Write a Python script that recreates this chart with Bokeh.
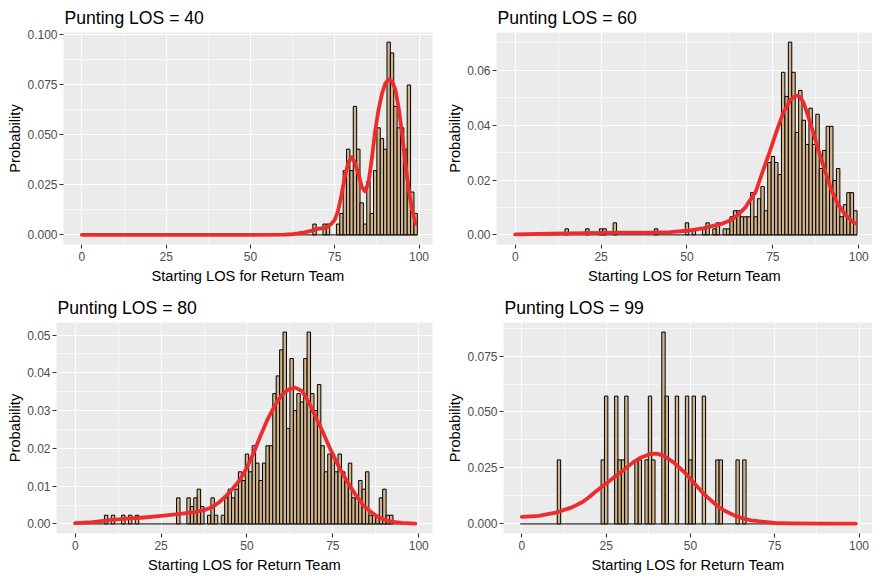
from bokeh.plotting import figure
from bokeh.layouts import column, row
from bokeh.models import Range1d, FixedTicker, PrintfTickFormatter
from bokeh.embed import file_html
from bokeh.resources import INLINE

FONT = "Liberation Sans"

# yard bins used by the histograms (0 .. 99)
YARDS = list(range(100))

# ---- Punting LOS = 40 ----
P40_X = [69, 72, 73, 76, 77, 78, 79, 80, 81, 82, 83, 84, 85, 86, 87, 88, 89, 90,
         91, 92, 93, 94, 95, 96, 97, 98, 99]
P40_P = [0.0054, 0.0054, 0.0054, 0.0054, 0.0107, 0.0321, 0.0428, 0.0321, 0.0642,
         0.0428, 0.0160, 0.0054, 0.0267, 0.0107, 0.0321, 0.0535, 0.0481, 0.0428,
         0.0963, 0.0909, 0.0642, 0.0535, 0.0535, 0.0428, 0.0749, 0.0214, 0.0107]
P40_CX = [0, 10, 20, 30, 40, 50, 60, 62, 64, 66, 68, 70, 72, 73, 74, 75, 76, 77, 78,
          79, 80, 81, 82, 83, 84, 85, 86, 87, 88, 89, 90, 91, 92, 93, 94, 95, 96, 97,
          98, 99]
P40_CY = [0, 0, 0, 0, 0, 0, 0.0001, 0.0003, 0.0007, 0.0012, 0.002, 0.003, 0.0035,
          0.0042, 0.0055, 0.0075, 0.012, 0.020, 0.029, 0.036, 0.0388, 0.036, 0.0305,
          0.024, 0.0218, 0.026, 0.038, 0.052, 0.0625, 0.0705, 0.0756, 0.0776, 0.0768,
          0.0725, 0.063, 0.050, 0.035, 0.022, 0.012, 0.0055]

# ---- Punting LOS = 60 ----
P60_X = [15, 21, 25, 26, 29, 41, 50, 52, 55, 56, 58, 59, 61, 62, 63, 64, 65, 66, 67,
         68, 69, 70, 71, 72, 73, 74, 75, 76, 77, 78, 79, 80, 81, 82, 83, 84, 85, 86,
         87, 88, 89, 90, 91, 92, 93, 94, 95, 96, 97, 98, 99]
P60_P = [0.0022, 0.0022, 0.0022, 0.0022, 0.0044, 0.0022, 0.0044, 0.0022, 0.0022,
         0.0044, 0.0022, 0.0044, 0.0022, 0.0022, 0.0066, 0.0088, 0.0088, 0.0066,
         0.0066, 0.0066, 0.0154, 0.0066, 0.0132, 0.0176, 0.0088, 0.0264, 0.0286,
         0.0264, 0.0220, 0.0593, 0.0505, 0.0703, 0.0593, 0.0374, 0.0527, 0.0418,
         0.0330, 0.0462, 0.0330, 0.0440, 0.0242, 0.0308, 0.0396, 0.0396, 0.0198,
         0.0242, 0.0066, 0.0110, 0.0154, 0.0154, 0.0088]
P60_CX = [0, 10, 20, 30, 40, 45, 50, 55, 60, 63, 65, 67, 68, 70, 72, 74, 76, 78, 80,
          81, 82, 83, 84, 86, 88, 90, 92, 94, 96, 98, 99]
P60_CY = [0.0002, 0.0004, 0.0006, 0.0008, 0.0008, 0.001, 0.0015, 0.0025, 0.004,
          0.0055, 0.0075, 0.010, 0.012, 0.0157, 0.023, 0.030, 0.0375, 0.0445, 0.049,
          0.0503, 0.0508, 0.0502, 0.0480, 0.0405, 0.0320, 0.0240, 0.0165, 0.0110,
          0.0075, 0.0050, 0.0042]

# ---- Punting LOS = 80 ----
P80_X = [9, 11, 14, 16, 18, 30, 33, 34, 35, 36, 37, 39, 40, 41, 43, 44, 45, 46, 47,
         48, 49, 50, 51, 52, 53, 54, 55, 56, 57, 58, 59, 60, 61, 62, 63, 64, 65, 66,
         67, 68, 69, 70, 71, 72, 73, 74, 75, 76, 77, 78, 79, 80, 81, 82, 83, 84, 85,
         86, 87, 88, 89, 90, 91, 92]
P80_P = [0.0023, 0.0023, 0.0023, 0.0023, 0.0023, 0.0069, 0.0069, 0.0046, 0.0069,
         0.0092, 0.0046, 0.0023, 0.0069, 0.0023, 0.0023, 0.0069, 0.0092, 0.0069,
         0.0092, 0.0138, 0.0115, 0.0185, 0.0138, 0.0207, 0.0161, 0.0115, 0.0161,
         0.0207, 0.0207, 0.0345, 0.0392, 0.0461, 0.0508, 0.0253, 0.0438, 0.0300,
         0.0345, 0.0323, 0.0438, 0.0508, 0.0345, 0.0300, 0.0369, 0.0207, 0.0138,
         0.0185, 0.0185, 0.0138, 0.0185, 0.0138, 0.0115, 0.0161, 0.0069, 0.0069,
         0.0115, 0.0092, 0.0138, 0.0023, 0.0023, 0.0023, 0.0069, 0.0092, 0.0023,
         0.0023]
P80_CX = [0, 5, 10, 15, 20, 25, 30, 35, 38, 40, 42, 44, 46, 48, 50, 52, 54, 56, 58,
          60, 62, 64, 66, 68, 70, 72, 74, 76, 78, 80, 82, 84, 86, 88, 90, 92, 95, 99]
P80_CY = [0.0002, 0.0005, 0.001, 0.0014, 0.0017, 0.0021, 0.0026, 0.0032, 0.0038,
          0.0045, 0.0058, 0.0075, 0.0095, 0.0117, 0.0150, 0.0190, 0.0235, 0.0277,
          0.0312, 0.0340, 0.0356, 0.0361, 0.0352, 0.0322, 0.0283, 0.0245, 0.0203,
          0.0165, 0.0130, 0.0100, 0.0072, 0.0048, 0.0032, 0.0019, 0.0011, 0.0006,
          0.0003, 0.0001]

# ---- Punting LOS = 99 ----
P99_X = [11, 24, 25, 28, 29, 30, 31, 34, 35, 37, 38, 39, 42, 43, 46, 49, 50, 51, 54,
         58, 59, 64, 66]
P99_P = [0.0286, 0.0286, 0.0571, 0.0571, 0.0286, 0.0286, 0.0571, 0.0286, 0.0286,
         0.0286, 0.0571, 0.0286, 0.0857, 0.0571, 0.0571, 0.0571, 0.0286, 0.0571,
         0.0571, 0.0286, 0.0286, 0.0286, 0.0286]
P99_CX = [0, 5, 10, 13, 15, 18, 20, 22, 25, 28, 30, 33, 35, 38, 40, 42, 45, 48, 50,
          53, 55, 58, 60, 63, 65, 68, 70, 75, 80, 90, 99]
P99_CY = [0.0031, 0.0036, 0.005, 0.0065, 0.0075, 0.0098, 0.012, 0.0146, 0.018,
          0.0216, 0.0238, 0.0275, 0.0294, 0.0312, 0.0314, 0.0305, 0.0275, 0.0234,
          0.0201, 0.015, 0.012, 0.008, 0.006, 0.0038, 0.0027, 0.0016, 0.0012, 0.0004,
          0.0002, 0.0001, 0.0001]

X_TICKS = [0, 25, 50, 75, 100]
X_MINOR = [12.5, 37.5, 62.5, 87.5]


def panel(title, bx, bp, cx, cy, yticks, yminor, yfmt, fw, fh, bl, br, bt, bb):
    ymax = max(bp)
    p = figure(frame_width=fw, frame_height=fh, output_backend="svg",
               toolbar_location=None,
               x_range=Range1d(-5.45, 104.0),
               y_range=Range1d(-0.05 * ymax, 1.05 * ymax),
               min_border_left=bl, min_border_right=br,
               min_border_top=bt, min_border_bottom=bb)
    p.background_fill_color = "#EBEBEB"
    p.border_fill_color = "white"
    p.outline_line_color = None

    p.title.text = title
    p.title.text_font = FONT
    p.title.text_font_size = "17.6px"
    p.title.text_font_style = "normal"
    p.title.text_color = "black"
    p.title.align = "left"
    p.title.offset = 1
    p.title.standoff = 9

    xt = FixedTicker(ticks=X_TICKS, minor_ticks=X_MINOR)
    yt = FixedTicker(ticks=yticks, minor_ticks=yminor)
    p.xaxis.ticker = xt
    p.yaxis.ticker = yt
    p.xgrid.ticker = xt
    p.ygrid.ticker = yt
    p.yaxis.formatter = PrintfTickFormatter(format=yfmt)

    for g in (p.xgrid, p.ygrid):
        g.grid_line_color = "white"
        g.grid_line_width = 1.1
        g.minor_grid_line_color = "white"
        g.minor_grid_line_width = 0.55

    p.xaxis.axis_label = "Starting LOS for Return Team"
    p.yaxis.axis_label = "Probability"
    for ax in (p.xaxis[0], p.yaxis[0]):
        ax.axis_line_color = None
        ax.major_tick_line_color = "#333333"
        ax.major_tick_line_width = 1.1
        ax.major_tick_out = 4
        ax.major_tick_in = 0
        ax.minor_tick_line_color = None
        ax.major_label_text_font = FONT
        ax.major_label_text_font_size = "12px"
        ax.major_label_text_color = "#4D4D4D"
        ax.axis_label_text_font = FONT
        ax.axis_label_text_font_size = "14.67px"
        ax.axis_label_text_font_style = "normal"
        ax.axis_label_text_color = "black"
    p.xaxis.major_label_standoff = 3
    p.xaxis.axis_label_standoff = 4
    p.yaxis.major_label_standoff = 2
    p.yaxis.axis_label_standoff = 1

    # empty bins are outlined along zero
    p.segment(x0=[YARDS[0] - 0.5], x1=[YARDS[-1] + 0.5], y0=[0], y1=[0],
              line_color="black", line_width=1)
    p.vbar(x=bx, width=1, top=bp, bottom=0, fill_color="#D2B48C",
           line_color="black", line_width=1)
    p.line(cx, cy, line_color="#EE2C2C", line_width=3.8, line_join="round",
           line_cap="round")
    return p


p1 = panel("Punting LOS = 40", P40_X, P40_P, P40_CX, P40_CY,
           [0, 0.025, 0.05, 0.075, 0.1], [0.0125, 0.0375, 0.0625, 0.0875], "%.3f",
           369, 212, 63, 8, 32, 42)
p2 = panel("Punting LOS = 60", P60_X, P60_P, P60_CX, P60_CY,
           [0, 0.02, 0.04, 0.06], [0.01, 0.03, 0.05, 0.07], "%.2f",
           376, 212, 56, 0, 32, 42)
p3 = panel("Punting LOS = 80", P80_X, P80_P, P80_CX, P80_CY,
           [0, 0.01, 0.02, 0.03, 0.04, 0.05],
           [0.005, 0.015, 0.025, 0.035, 0.045], "%.2f",
           376, 211, 56, 8, 36, 38)
p4 = panel("Punting LOS = 99", P99_X, P99_P, P99_CX, P99_CY,
           [0, 0.025, 0.05, 0.075], [0.0125, 0.0375, 0.0625, 0.0875], "%.3f",
           369, 211, 63, 0, 36, 38)

layout = column(row(p1, p2), row(p3, p4))

with open("out.html", "w") as f:
    f.write(file_html(layout, INLINE))
